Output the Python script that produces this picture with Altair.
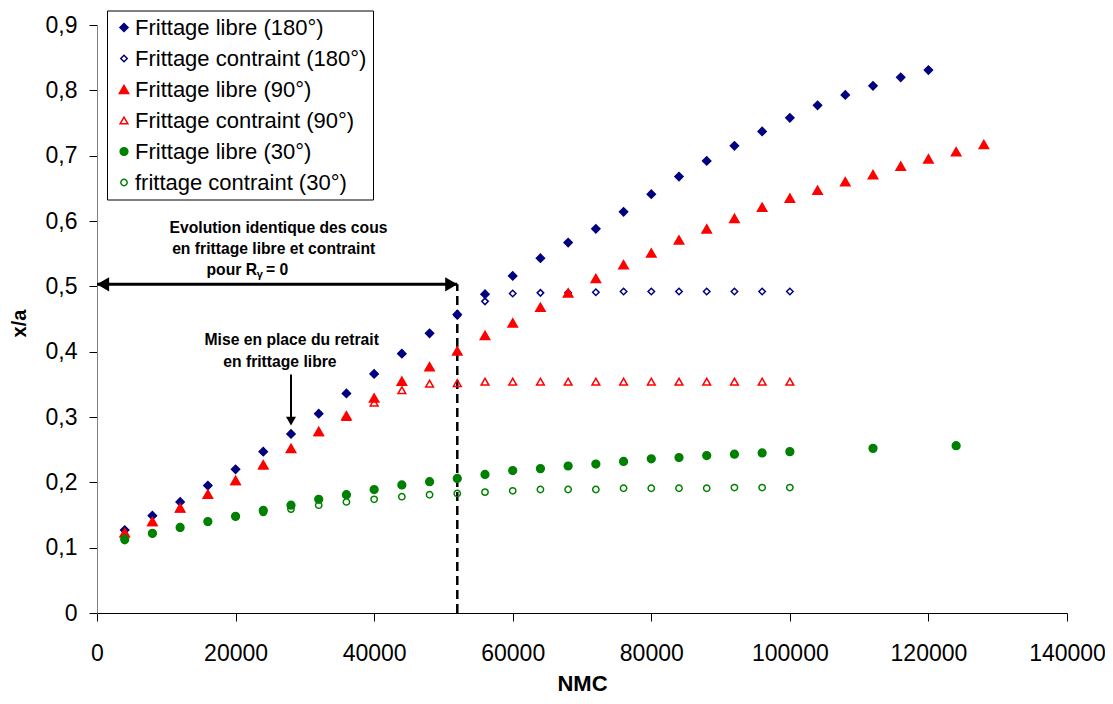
import altair as alt
import pandas as pd

FONT = "Liberation Sans"

series_names = [
    "Frittage libre (180°)",
    "Frittage contraint (180°)",
    "Frittage libre (90°)",
    "Frittage contraint (90°)",
    "Frittage libre (30°)",
    "frittage contraint (30°)",
]
colors = ["#000080", "#000080", "#FF0000", "#FF0000", "#008000", "#008000"]
fills = ["#000080", "transparent", "#FF0000", "transparent", "#008000", "transparent"]
shapes = ["diamond", "diamond", "triangle-up", "triangle-up", "circle", "circle"]
sizes = [66, 42, 88, 60, 60, 40]

free180_x = [4000, 8000, 12000, 16000, 20000, 24000, 28000, 32000, 36000, 40000,
             44000, 48000, 52000, 56000, 60000, 64000, 68000, 72000, 76000, 80000,
             84000, 88000, 92000, 96000, 100000, 104000, 108000, 112000, 116000, 120000]
free180_y = [0.127, 0.149, 0.170, 0.195, 0.220, 0.247, 0.274, 0.305, 0.336, 0.366,
             0.397, 0.428, 0.457, 0.488, 0.516, 0.543, 0.567, 0.588, 0.614, 0.641,
             0.668, 0.692, 0.715, 0.737, 0.758, 0.777, 0.793, 0.807, 0.820, 0.831]

constr180_x = [4000, 8000, 12000, 16000, 20000, 24000, 28000, 32000, 36000, 40000,
               44000, 48000, 52000, 56000, 60000, 64000, 68000, 72000, 76000, 80000,
               84000, 88000, 92000, 96000, 100000]
constr180_y = [0.127, 0.149, 0.170, 0.195, 0.220, 0.247, 0.274, 0.305, 0.336, 0.366,
               0.397, 0.428, 0.455, 0.477, 0.489, 0.490, 0.490, 0.491, 0.492, 0.492,
               0.492, 0.492, 0.492, 0.492, 0.492]

free90_x = [4000, 8000, 12000, 16000, 20000, 24000, 28000, 32000, 36000, 40000,
            44000, 48000, 52000, 56000, 60000, 64000, 68000, 72000, 76000, 80000,
            84000, 88000, 92000, 96000, 100000, 104000, 108000, 112000, 116000, 120000,
            124000, 128000]
free90_y = [0.123, 0.140, 0.161, 0.182, 0.203, 0.227, 0.252, 0.278, 0.302, 0.329,
            0.355, 0.377, 0.401, 0.425, 0.444, 0.468, 0.490, 0.512, 0.533, 0.551,
            0.571, 0.588, 0.604, 0.621, 0.635, 0.647, 0.660, 0.671, 0.684, 0.695,
            0.706, 0.717]

constr90_x = [4000, 8000, 12000, 16000, 20000, 24000, 28000, 32000, 36000, 40000,
              44000, 48000, 52000, 56000, 60000, 64000, 68000, 72000, 76000, 80000,
              84000, 88000, 92000, 96000, 100000]
constr90_y = [0.122, 0.139, 0.160, 0.181, 0.202, 0.226, 0.251, 0.277, 0.300, 0.322,
              0.341, 0.351, 0.352, 0.354, 0.354, 0.354, 0.354, 0.354, 0.354, 0.354,
              0.354, 0.354, 0.354, 0.354, 0.354]

free30_x = [4000, 8000, 12000, 16000, 20000, 24000, 28000, 32000, 36000, 40000,
            44000, 48000, 52000, 56000, 60000, 64000, 68000, 72000, 76000, 80000,
            84000, 88000, 92000, 96000, 100000, 112000, 124000]
free30_y = [0.113, 0.122, 0.131, 0.140, 0.148, 0.157, 0.165, 0.174, 0.181, 0.189,
            0.196, 0.201, 0.206, 0.212, 0.218, 0.221, 0.225, 0.228, 0.232, 0.236,
            0.238, 0.241, 0.243, 0.245, 0.247, 0.252, 0.256]

constr30_x = [4000, 8000, 12000, 16000, 20000, 24000, 28000, 32000, 36000, 40000,
              44000, 48000, 52000, 56000, 60000, 64000, 68000, 72000, 76000, 80000,
              84000, 88000, 92000, 96000, 100000]
constr30_y = [0.111, 0.121, 0.130, 0.139, 0.147, 0.154, 0.159, 0.165, 0.170, 0.174,
              0.178, 0.181, 0.183, 0.185, 0.187, 0.189, 0.189, 0.189, 0.191, 0.191,
              0.191, 0.191, 0.192, 0.192, 0.192]

x_ticks = [0, 20000, 40000, 60000, 80000, 100000, 120000, 140000]
y_ticks = [0, 0.1, 0.2, 0.3, 0.4, 0.5, 0.6, 0.7, 0.8, 0.9]

all_series = [
    (free180_x, free180_y),
    (constr180_x, constr180_y),
    (free90_x, free90_y),
    (constr90_x, constr90_y),
    (free30_x, free30_y),
    (constr30_x, constr30_y),
]
rows = []
for i, (xs, ys) in enumerate(all_series):
    for x, y in zip(xs, ys):
        rows.append({"series": series_names[i], "nmc": x, "xa": y, "ord": i})
df = pd.DataFrame(rows)

leg = alt.Legend(
    title=None, orient="none", legendX=10, legendY=-14.5, padding=6,
    strokeColor="black", fillColor="white", labelFontSize=22, labelFont=FONT,
    labelColor="black", rowPadding=9, labelOffset=0,
    symbolStrokeWidth=1.5, labelLimit=400,
)

x_enc = alt.X(
    "nmc:Q", title="NMC",
    scale=alt.Scale(domain=[0, 140000], nice=False),
    axis=alt.Axis(values=x_ticks, format="d", labelFontSize=23, labelFont=FONT,
                  labelColor="black", tickSize=8, tickColor="black",
                  domainColor="black", labelPadding=21, grid=False,
                  labelFlush=False, titleFontSize=22, titleFont=FONT,
                  titleFontWeight="bold", titleColor="black",
                  titleY=70, titleBaseline="middle"),
)
y_enc = alt.Y(
    "xa:Q", title="x/a",
    scale=alt.Scale(domain=[0, 0.9], nice=False),
    axis=alt.Axis(values=y_ticks,
                  labelExpr="datum.value == 0 ? '0' : replace(format(datum.value, '.1f'), '.', ',')",
                  labelFontSize=23, labelFont=FONT, labelColor="black",
                  tickSize=8, tickColor="black", domainColor="#808080",
                  labelPadding=12, grid=False, titleFontSize=20, titleFont=FONT,
                  titleFontWeight="bold", titleColor="black",
                  titleX=-78, titleY=298, titleAlign="center",
                  titleBaseline="middle", titleAngle=270),
)

points = alt.Chart(df).mark_point(opacity=1, strokeWidth=1.5).encode(
    x=x_enc,
    y=y_enc,
    stroke=alt.Stroke("series:N", scale=alt.Scale(domain=series_names, range=colors), legend=leg),
    fill=alt.Fill("series:N", scale=alt.Scale(domain=series_names, range=fills), legend=leg),
    shape=alt.Shape("series:N", scale=alt.Scale(domain=series_names, range=shapes), legend=leg),
    size=alt.Size("series:N", scale=alt.Scale(type="ordinal", domain=series_names, range=sizes), legend=leg),
    order=alt.Order("ord:Q"),
)

# annotations
ann_h = pd.DataFrame({"x": [0], "x2": [52000], "y": [0.503]})
h_line = alt.Chart(ann_h).mark_rule(strokeWidth=3, color="black").encode(
    x="x:Q", x2="x2:Q", y="y:Q")
h_left = alt.Chart(ann_h).mark_point(shape="triangle-left", filled=True, size=200,
                                     color="black", opacity=1, xOffset=6).encode(
    x="x:Q", y="y:Q")
h_right = alt.Chart(ann_h).mark_point(shape="triangle-right", filled=True, size=200,
                                      color="black", opacity=1, xOffset=-6).encode(
    x="x2:Q", y="y:Q")

ann_v = pd.DataFrame({"x": [52000], "y": [0.0], "y2": [0.503]})
v_dash = alt.Chart(ann_v).mark_rule(strokeWidth=2.5, color="black", strokeDash=[9, 5]).encode(
    x="x:Q", y="y:Q", y2="y2:Q")

ann_a = pd.DataFrame({"x": [28000], "y": [0.365], "y2": [0.295], "tip": [0.287]})
a_line = alt.Chart(ann_a).mark_rule(strokeWidth=2, color="black").encode(
    x="x:Q", y="y:Q", y2="y2:Q")
a_head = alt.Chart(ann_a).mark_point(shape="triangle-down", filled=True, size=100,
                                     color="black", opacity=1, yOffset=-4.3).encode(
    x="x:Q", y="tip:Q")

txt_df = pd.DataFrame({
    "x": [26200, 25500, 28100, 26400],
    "y": [0.589, 0.557, 0.418, 0.384],
    "t": ["Evolution identique des cous", "en frittage libre et contraint",
          "Mise en place du retrait", "en frittage libre"],
})
texts = alt.Chart(txt_df).mark_text(font=FONT, fontSize=15.7, fontWeight="bold",
                                    color="black", align="center", baseline="middle").encode(
    x="x:Q", y="y:Q", text="t:N")

pr_df = pd.DataFrame({"x": [23100], "y": [0.525], "t": ["pour R"]})
pr_text = alt.Chart(pr_df).mark_text(font=FONT, fontSize=15.7, fontWeight="bold", color="black",
                                     align="right", baseline="middle").encode(
    x="x:Q", y="y:Q", text="t:N")
g_df = pd.DataFrame({"x": [23050], "y": [0.525], "t": ["γ"]})
g_text = alt.Chart(g_df).mark_text(font=FONT, fontSize=11, fontWeight="bold", color="black",
                                   align="left", baseline="middle", dy=5).encode(
    x="x:Q", y="y:Q", text="t:N")
eq_df = pd.DataFrame({"x": [24400], "y": [0.525], "t": ["= 0"]})
eq_text = alt.Chart(eq_df).mark_text(font=FONT, fontSize=15.7, fontWeight="bold", color="black",
                                     align="left", baseline="middle").encode(
    x="x:Q", y="y:Q", text="t:N")

chart = alt.layer(
    v_dash, h_line, h_left, h_right, a_line, a_head, texts, pr_text, g_text, eq_text, points
).properties(
    width=970, height=588,
    autosize=alt.AutoSizeParams(type="none"),
    padding={"left": 89, "top": 17, "right": 38, "bottom": 83},
    background="white",
).configure_view(strokeWidth=0)

chart.save("out.html", embed_options={"renderer": "svg", "actions": False})
